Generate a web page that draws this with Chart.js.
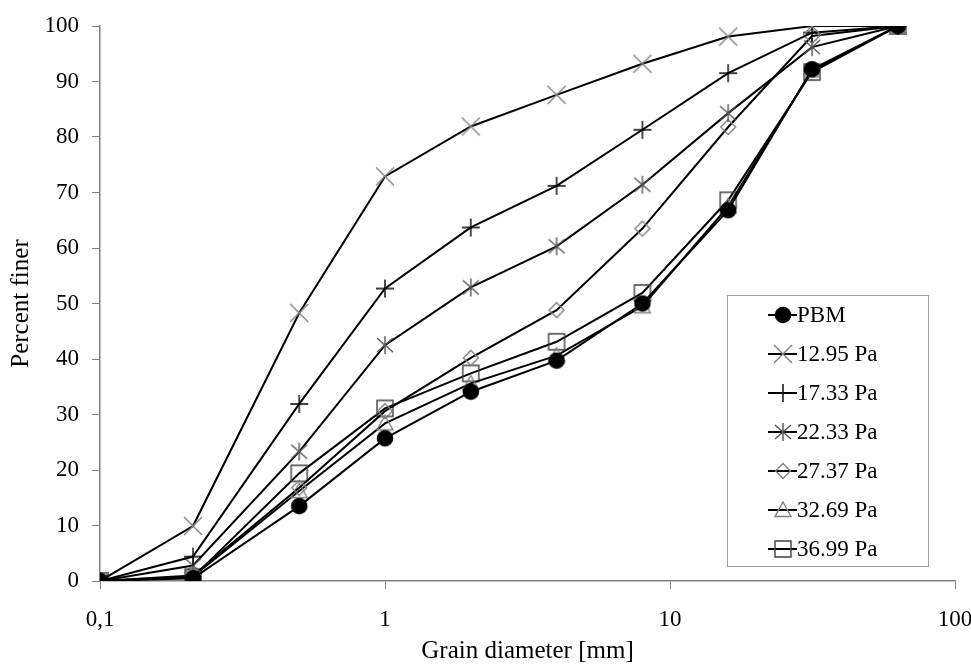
<!DOCTYPE html>
<html>
<head>
<meta charset="utf-8">
<script src="https://cdn.jsdelivr.net/npm/chart.js@4/dist/chart.umd.min.js"></script>
<style>
html,body{margin:0;padding:0;background:#fff;}
canvas{display:block;}
</style>
</head>
<body>
<canvas id="c" width="971" height="666"></canvas>
<script>
// ---- data ----
const grainSizes = [0.1, 0.212, 0.5, 1, 2, 4, 8, 16, 31.5, 63];
const seriesNames = ['PBM', '12.95 Pa', '17.33 Pa', '22.33 Pa', '27.37 Pa', '32.69 Pa', '36.99 Pa'];
const pbm    = [0, 0.5, 13.5, 25.7, 34.1, 39.7, 50.0, 66.8, 92.2, 100];
const pa1295 = [0, 9.9, 48.3, 72.9, 81.9, 87.6, 93.2, 98.1, 100, 100];
const pa1733 = [0, 4.4, 31.9, 52.7, 63.7, 71.2, 81.3, 91.5, 98.8, 100];
const pa2233 = [0, 2.8, 23.3, 42.5, 52.9, 60.3, 71.4, 84.3, 96.2, 100];
const pa2737 = [0, 1.0, 16.8, 30.6, 40.2, 48.8, 63.5, 81.8, 98.2, 100];
const pa3269 = [0, 0.8, 16.2, 28.4, 35.6, 40.6, 49.5, 67.5, 92.0, 100];
const pa3699 = [0, 0.7, 19.4, 31.1, 37.4, 43.1, 51.9, 68.6, 91.7, 100];
const xTickValues = [0.1, 1, 10, 100];
const xTickLabels = ['0,1', '1', '10', '100'];
const yTickValues = [0, 10, 20, 30, 40, 50, 60, 70, 80, 90, 100];

const seriesValues = [pbm, pa1295, pa1733, pa2233, pa2737, pa3269, pa3699];
const markerKinds = ['circle', 'x', 'plus', 'asterisk', 'diamond', 'triangle', 'square'];

// ---- marker images ----
function makeMarker(kind) {
  const s = 24, c = document.createElement('canvas');
  c.width = s; c.height = s;
  const g = c.getContext('2d');
  g.translate(s / 2, s / 2);
  g.lineWidth = 1.4;
  g.lineCap = 'butt';
  g.beginPath();
  switch (kind) {
    case 'circle':
      g.fillStyle = '#000';
      g.arc(0, 0, 8.3, 0, Math.PI * 2);
      g.fill();
      return c;
    case 'x':
      g.strokeStyle = '#808080';
      g.moveTo(-9, -9); g.lineTo(9, 9);
      g.moveTo(-9, 9); g.lineTo(9, -9);
      break;
    case 'plus':
      g.strokeStyle = '#000';
      g.moveTo(-9, 0); g.lineTo(9, 0);
      g.moveTo(0, -9); g.lineTo(0, 9);
      break;
    case 'asterisk':
      g.strokeStyle = '#555';
      g.moveTo(-8, -7); g.lineTo(8, 7);
      g.moveTo(-8, 7); g.lineTo(8, -7);
      g.moveTo(0, -9); g.lineTo(0, 9);
      break;
    case 'diamond':
      g.strokeStyle = '#808080';
      g.moveTo(0, -7.5); g.lineTo(7.5, 0); g.lineTo(0, 7.5); g.lineTo(-7.5, 0); g.closePath();
      break;
    case 'triangle':
      g.strokeStyle = '#808080';
      g.moveTo(0, -8); g.lineTo(8, 6.5); g.lineTo(-8, 6.5); g.closePath();
      break;
    case 'square':
      g.strokeStyle = '#404040';
      g.rect(-8, -8, 16, 16);
      break;
  }
  g.stroke();
  return c;
}
const markers = markerKinds.map(makeMarker);

const datasets = seriesNames.map((name, i) => ({
  label: name,
  data: grainSizes.map((x, j) => ({ x: x, y: seriesValues[i][j] })),
  showLine: true,
  borderColor: '#000',
  borderWidth: 2,
  pointStyle: markers[i],
  pointRadius: 8,
  pointHoverRadius: 8,
  fill: false,
  tension: 0
}));

const SERIF = '"Liberation Serif", "Times New Roman", serif';

const legendPlugin = {
  id: 'customLegend',
  afterDraw(chart) {
    const ctx = chart.ctx;
    const box = { left: 727.5, top: 295.5, w: 201, h: 271 };
    ctx.save();
    ctx.fillStyle = '#fff';
    ctx.fillRect(box.left, box.top, box.w, box.h);
    ctx.strokeStyle = '#a0a0a0';
    ctx.lineWidth = 1;
    ctx.strokeRect(box.left, box.top, box.w, box.h);
    ctx.font = '23px ' + SERIF;
    ctx.textBaseline = 'middle';
    ctx.textAlign = 'left';
    chart.data.datasets.forEach((ds, i) => {
      const y = 315 + i * 39;
      ctx.strokeStyle = '#000';
      ctx.lineWidth = 2;
      ctx.beginPath();
      ctx.moveTo(768, y); ctx.lineTo(797, y);
      ctx.stroke();
      const img = ds.pointStyle;
      ctx.drawImage(img, 783 - img.width / 2, y - img.height / 2);
      ctx.fillStyle = '#000';
      ctx.fillText(ds.label, 797, y + 1);
    });
    ctx.restore();
  }
};

new Chart(document.getElementById('c'), {
  type: 'scatter',
  data: { datasets: datasets },
  options: {
    responsive: false,
    animation: false,
    events: [],
    layout: { padding: { left: 0, right: 16, top: 26, bottom: 0 } },
    plugins: { legend: { display: false }, tooltip: { enabled: false } },
    scales: {
      x: {
        type: 'logarithmic',
        min: 0.1, max: 100,
        afterBuildTicks(scale) { scale.ticks = xTickValues.map(v => ({ value: v })); },
        afterFit(scale) { scale.height = 85; scale.paddingRight = 0; scale.paddingLeft = 0; },
        ticks: {
          autoSkip: false, maxRotation: 0,
          color: '#000', padding: 17,
          font: { family: SERIF, size: 23 },
          callback(v) { const k = xTickValues.indexOf(v); return k >= 0 ? xTickLabels[k] : ''; }
        },
        grid: { display: true, drawOnChartArea: false, drawTicks: true, tickLength: 8, color: '#808080' },
        border: { display: true, color: '#808080', width: 1.5 },
        title: { display: true, text: 'Grain diameter [mm]', color: '#000',
          font: { family: SERIF, size: 25 }, padding: { top: 0, bottom: 0 } }
      },
      y: {
        min: 0, max: 100,
        afterBuildTicks(scale) { scale.ticks = yTickValues.map(v => ({ value: v })); },
        afterFit(scale) { scale.width = 100; scale.paddingTop = 0; scale.paddingBottom = 0; },
        ticks: { color: '#000', padding: 13, font: { family: SERIF, size: 23 } },
        grid: { display: true, drawOnChartArea: false, drawTicks: true, tickLength: 8, color: '#808080' },
        border: { display: true, color: '#808080', width: 1.5 },
        title: { display: true, text: 'Percent finer', color: '#000',
          font: { family: SERIF, size: 25 }, padding: { top: 6, bottom: 0 } }
      }
    }
  },
  plugins: [legendPlugin]
});
</script>
</body>
</html>
